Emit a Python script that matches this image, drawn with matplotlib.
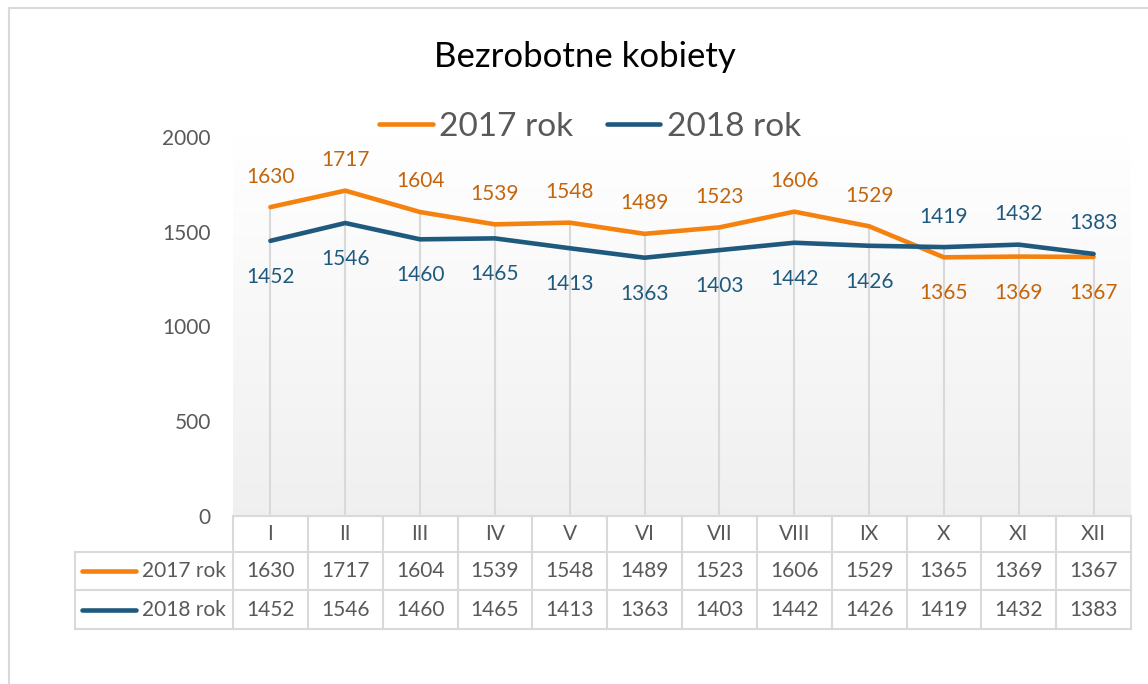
import numpy as np
import matplotlib
matplotlib.use("Agg")
import matplotlib.pyplot as plt
from matplotlib.lines import Line2D
from matplotlib.transforms import blended_transform_factory

# data
months = ["I", "II", "III", "IV", "V", "VI", "VII", "VIII", "IX", "X", "XI", "XII"]
series_names = ["2017 rok", "2018 rok"]
values_2017 = [1630, 1717, 1604, 1539, 1548, 1489, 1523, 1606, 1529, 1365, 1369, 1367]
values_2018 = [1452, 1546, 1460, 1465, 1413, 1363, 1403, 1442, 1426, 1419, 1432, 1383]
yticks = [0, 500, 1000, 1500, 2000]

line_colors = ["#F5820F", "#1F5A7E"]
label_colors = ["#C4640C", "#1F5A7E"]
grey_text = "#595959"
grid_grey = "#D9D9D9"

plt.rcParams["font.family"] = ["Lato", "DejaVu Sans"]

fig = plt.figure(figsize=(11.48, 6.84), dpi=100)
ax = fig.add_axes([233 / 1148, 1 - 516 / 684, (1131 - 233) / 1148, (516 - 137) / 684])

x = np.arange(len(months))
all_series = [values_2017, values_2018]

ax.set_xlim(-0.5, len(months) - 0.5)
ax.set_ylim(0, 2000)

# gradient background of plot area
grad = np.linspace(0.94, 1.0, 256).reshape(-1, 1)
ax.imshow(np.dstack([grad, grad, grad]), extent=(-0.5, len(months) - 0.5, 0, 2000),
          aspect="auto", origin="lower", zorder=0)

# drop lines
tops = np.maximum(values_2017, values_2018)
ax.vlines(x, 0, tops, color=grid_grey, lw=1.5, zorder=1)

handles = []
for i, vals in enumerate(all_series):
    h, = ax.plot(x, vals, color=line_colors[i], lw=3.3, solid_capstyle="round",
                 solid_joinstyle="round", zorder=3, label=series_names[i])
    handles.append(h)

# data labels: higher series above, lower below
for j in range(len(months)):
    a, b = values_2017[j], values_2018[j]
    for i, v in enumerate([a, b]):
        other = b if i == 0 else a
        dy = 22 if v >= other else -26
        ax.annotate(str(v), (x[j], v), xytext=(0, dy), textcoords="offset points",
                    ha="center", va="center", fontsize=15, color=label_colors[i], zorder=4)

ax.set_yticks(yticks)
ax.set_yticklabels([str(t) for t in yticks], fontsize=15, color=grey_text)
ax.tick_params(axis="y", length=0, pad=16)
ax.set_xticks([])
for s in ax.spines.values():
    s.set_visible(False)

# data table below the plot
tr = blended_transform_factory(ax.transData, ax.transAxes)
px = 1 / (516 - 137)
y_head = -36 * px
y_row1 = -74 * px
y_row2 = -113 * px
x0, x1 = -0.5, len(months) - 0.5
x_leg = -2.61
tkw = dict(color=grid_grey, lw=1.5, transform=tr, clip_on=False, zorder=2)
ax.add_line(Line2D([x0, x1], [0, 0], **tkw))
for yy in [y_head, y_row1, y_row2]:
    ax.add_line(Line2D([x_leg, x1], [yy, yy], **tkw))
for k in range(len(months) + 1):
    ax.add_line(Line2D([x0 + k, x0 + k], [0, y_row2], **tkw))
ax.add_line(Line2D([x_leg, x_leg], [y_head, y_row2], **tkw))

for j, m in enumerate(months):
    ax.text(x[j], y_head / 2, m, transform=tr, ha="center", va="center",
            fontsize=15, color=grey_text)
row_mid = [(y_head + y_row1) / 2, (y_row1 + y_row2) / 2]
for i, vals in enumerate(all_series):
    for j, v in enumerate(vals):
        ax.text(x[j], row_mid[i], str(v), transform=tr, ha="center", va="center",
                fontsize=15, color=grey_text)
    ax.add_line(Line2D([-2.52, -1.79], [row_mid[i], row_mid[i]], color=line_colors[i],
                       lw=3.3, solid_capstyle="round", transform=tr, clip_on=False))
    ax.text(-0.6, row_mid[i], series_names[i], transform=tr, ha="right", va="center",
            fontsize=15, color=grey_text)

# title and legend
fig.text(585 / 1148, 1 - 57 / 684, "Bezrobotne kobiety", ha="center", va="center",
         fontsize=25, color="black")
fig.legend(handles=handles, loc="center", bbox_to_anchor=(590 / 1148, 1 - 127 / 684),
           ncol=2, frameon=False, fontsize=24, handlelength=1.6, handletextpad=0.2,
           columnspacing=1.0, labelcolor=grey_text)

# chart border
fig.add_artist(Line2D([9 / 1148, 1], [1 - 8 / 684, 1 - 8 / 684], color=grid_grey, lw=1.5))
fig.add_artist(Line2D([9 / 1148, 9 / 1148], [0, 1 - 8 / 684], color=grid_grey, lw=1.5))

fig.savefig("out.png", dpi=100, facecolor="white")
